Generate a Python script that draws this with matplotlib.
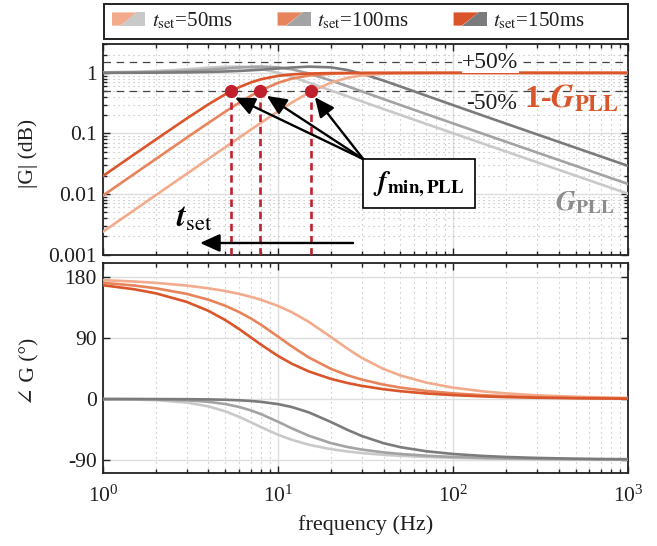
import matplotlib
matplotlib.use('Agg')
import matplotlib.pyplot as plt
from matplotlib.legend_handler import HandlerBase
from matplotlib.patches import Polygon, Rectangle

plt.rcParams['font.family'] = ['Liberation Serif', 'DejaVu Serif']
plt.rcParams['mathtext.fontset'] = 'stix'

# ---------------- data ----------------
freq = [1, 1.5, 2, 3, 4, 5, 6, 7, 8, 10, 12, 15, 20, 25, 30, 40, 50, 70,
        100, 150, 200, 300, 500, 700, 1000]

settle_labels = ['50ms', '100ms', '150ms']

# |1 - G_PLL|
mag_1mG_50 = [0.0023795, 0.005354, 0.009518, 0.021411, 0.038045, 0.059383, 0.085350,
              0.115812, 0.150554, 0.231490, 0.324152, 0.472004, 0.689440, 0.829847,
              0.906086, 0.967194, 0.986164, 0.996342, 0.999118, 0.99983, 0.99994,
              1.0, 1.0, 1.0, 1.0]
mag_1mG_100 = [0.009426, 0.021203, 0.037675, 0.084529, 0.149130, 0.229369, 0.321334,
               0.419306, 0.516547, 0.685911, 0.805092, 0.904502, 0.966580, 0.985897,
               0.993124, 0.997809, 0.999100, 0.99977, 0.99994, 1.0, 1.0, 1.0, 1.0,
               1.0, 1.0]
mag_1mG_150 = [0.01983, 0.04461, 0.07910, 0.17573, 0.30254, 0.44427, 0.58119, 0.69700,
               0.78560, 0.89297, 0.94383, 0.97581, 0.99215, 0.99676, 0.99843, 0.99950,
               0.99980, 0.99995, 1.0, 1.0, 1.0, 1.0, 1.0, 1.0, 1.0]

# |G_PLL|
mag_G_50 = [1.0194, 1.0427, 1.0731, 1.1468, 1.2187, 1.2644, 1.2681, 1.2304, 1.1640,
            1.0032, 0.8561, 0.6888, 0.5136, 0.4083, 0.3388, 0.2529, 0.2018, 0.1438,
            0.10053, 0.06698, 0.05022, 0.03347, 0.02008, 0.014344, 0.010041]
mag_G_100 = [1.0093, 1.0208, 1.0363, 1.0776, 1.1281, 1.1806, 1.2269, 1.2592, 1.2719,
             1.2360, 1.1432, 0.9764, 0.7492, 0.5983, 0.4962, 0.3693, 0.2941, 0.2092,
             0.14604, 0.09722, 0.07288, 0.04857, 0.029133, 0.020809, 0.014567]
mag_G_150 = [1.00237, 1.00533, 1.00943, 1.02096, 1.03662, 1.05595, 1.07833, 1.10302,
             1.12916, 1.18187, 1.22810, 1.26865, 1.23428, 1.11240, 0.97248, 0.74562,
             0.59535, 0.42140, 0.29269, 0.19414, 0.14533, 0.09675, 0.05801, 0.04143,
             0.028994]

# phase of 1 - G_PLL (deg)
ph_1mG_50 = [176.04, 174.06, 172.07, 168.06, 163.99, 159.86, 155.64, 151.34, 146.93,
             137.85, 128.45, 114.18, 92.00, 74.23, 61.12, 44.51, 34.88, 24.37, 16.84,
             11.14, 8.33, 5.55, 3.32, 2.37, 1.66]
ph_1mG_100 = [172.11, 168.12, 164.07, 155.77, 147.11, 138.07, 128.72, 119.25, 109.86,
              92.39, 77.76, 61.45, 44.75, 35.06, 28.84, 21.31, 16.92, 12.01, 8.38,
              5.57, 4.18, 2.78, 1.67, 1.19, 0.835]
ph_1mG_150 = [168.52, 162.63, 156.60, 143.97, 130.59, 116.84, 103.45, 91.15, 80.39,
              63.71, 52.16, 40.79, 29.87, 23.60, 19.52, 14.53, 11.58, 8.25, 5.76,
              3.84, 2.88, 1.92, 1.15, 0.82, 0.575]

# phase of G_PLL (deg)
ph_G_50 = [-0.22, -0.73, -1.68, -5.17, -10.86, -18.28, -26.47, -34.49, -41.72, -52.95,
           -60.54, -67.71, -74.22, -77.76, -79.98, -82.62, -84.15, -85.85, -87.11,
           -88.08, -88.56, -89.04, -89.42, -89.59, -89.71]
ph_G_100 = [-0.07, -0.24, -0.57, -1.84, -4.11, -7.46, -11.80, -16.89, -22.46, -33.68,
            -43.50, -54.45, -65.25, -71.18, -74.81, -79.01, -81.37, -83.93, -85.79,
            -87.21, -87.91, -88.61, -89.17, -89.40, -89.58]
ph_G_150 = [-0.01, -0.03, -0.07, -0.25, -0.58, -1.11, -1.88, -2.88, -4.18, -7.55,
            -11.93, -19.84, -33.93, -45.87, -54.67, -65.41, -71.29, -77.33, -81.41,
            -84.38, -85.82, -87.22, -88.34, -88.81, -89.17]

f_min = [5.35, 7.85, 15.4]          # f_min,PLL markers
f_min_level = 0.5
band_levels = [1.5, 0.5]            # +50 % / -50 %

# ---------------- styles ----------------
orange = ['#F2AB8C', '#E8845B', '#DA5529']
gray = ['#C9C9C9', '#A3A3A5', '#7B7B7D']
red = '#C0202E'
txtc = '#1E1E1E'

W, H = 657, 546
fig = plt.figure(figsize=(W / 100, H / 100), dpi=100)


def fr(l, t, r, b):
    return [l / W, 1 - b / H, (r - l) / W, (b - t) / H]


ax1 = fig.add_axes(fr(103, 44, 628.3, 254.5))
ax2 = fig.add_axes(fr(103, 263.3, 628.3, 473.3))

mags_1mG = [mag_1mG_50, mag_1mG_100, mag_1mG_150]
mags_G = [mag_G_50, mag_G_100, mag_G_150]
phs_1mG = [ph_1mG_50, ph_1mG_100, ph_1mG_150]
phs_G = [ph_G_50, ph_G_100, ph_G_150]

for m, c in zip(mags_G, gray):
    ax1.plot(freq, m, color=c, lw=1.9, zorder=3)
for m, c in zip(mags_1mG, orange):
    ax1.plot(freq, m, color=c, lw=1.9, zorder=3)

for p, c in zip(phs_G, gray):
    ax2.plot(freq, p, color=c, lw=1.9, zorder=3)
for p, c in zip(phs_1mG, orange):
    ax2.plot(freq, p, color=c, lw=1.9, zorder=3)

# axes setup
ax1.set_xscale('log')
ax1.set_yscale('log')
ax1.set_xlim(1, 1000)
ax1.set_ylim(0.001, 3)
ax1.set_yticks([0.001, 0.01, 0.1, 1])
ax1.set_yticklabels(['0.001', '0.01', '0.1', '1'])

ax2.set_xscale('log')
ax2.set_xlim(1, 1000)
ax2.set_ylim(-110, 201)
ax2.set_yticks([-90, 0, 90, 180])
ax2.set_yticklabels(['-90', '0', '90', '180'])

for ax in (ax1, ax2):
    ax.set_axisbelow(True)
    ax.grid(True, which='major', color='#DEDEDE', lw=1.0, ls='-')
    for s in ax.spines.values():
        s.set_linewidth(1.3)
        s.set_color('#222222')
    ax.tick_params(which='both', direction='in', top=True, right=True,
                   width=1.0, color='#222222', labelcolor=txtc, labelsize=15.5)
    ax.tick_params(which='major', length=5)
    ax.tick_params(which='minor', length=3)
    ax.tick_params(axis='y', pad=4.5)
ax1.grid(True, which='minor', color='#B8B8B8', lw=0.8, ls=(0, (1, 3.5)))
ax2.grid(True, which='minor', axis='x', color='#B8B8B8', lw=0.8, ls=(0, (1, 3.5)))
ax1.tick_params(labelbottom=False)
ax2.tick_params(axis='x', pad=9)

ax1.set_ylabel('|G| (dB)', fontsize=15.5, color=txtc)
ax1.yaxis.set_label_coords(-0.124, 0.479)
ax2.set_ylabel('∠ G (°)', fontsize=15.5, color=txtc)
ax2.yaxis.set_label_coords(-0.120, 0.484)
ax2.set_xlabel('frequency (Hz)', fontsize=16, color=txtc)
ax2.xaxis.set_label_coords(0.5, -0.20)

# +/-50 % band lines
for lv in band_levels:
    ax1.axhline(lv, color='#444444', lw=0.9, ls=(0, (6, 4.5)), zorder=2)
ax1.text(163, 1.5, '+50%', ha='center', va='center', fontsize=17, color=txtc,
         bbox=dict(fc='white', ec='none', pad=0.5), zorder=4)
ax1.text(166, 0.316, '-50%', ha='center', va='center', fontsize=17, color=txtc, zorder=4)

ax1.text(475, 0.261, r'1-$\mathbfit{G}_{\mathbf{PLL}}$', color=orange[2], fontsize=23,
         fontweight='bold', ha='center', va='baseline', zorder=4)
ax1.text(566, 0.00544, r'$\mathbfit{G}_{\mathbf{PLL}}$', color='#8C8C8C', fontsize=20,
         ha='center', va='baseline', zorder=4)

# f_min markers and red dashed drops
ax1.vlines(f_min, 0.001, f_min_level, colors=red, lw=1.9, linestyles=(0, (2.8, 1.8)), zorder=4)
ax1.plot(f_min, [f_min_level] * len(f_min), 'o', color=red, ms=8.5, zorder=5)

# arrows to markers from the box corner
tail = (30.7, 0.0375)
for tip in [(5.67, 0.391), (8.61, 0.417), (16.2, 0.398)]:
    ax1.annotate('', xy=tip, xytext=tail,
                 arrowprops=dict(arrowstyle='-|>,head_length=0.6,head_width=0.27',
                                 lw=1.7, color='black', shrinkA=0, shrinkB=0,
                                 mutation_scale=20), zorder=6)

# f_min,PLL box
bx0, by0 = (362.7 - 103) / 525.3, (254.5 - 208.3) / 210.5
bw, bh = (475 - 362.7) / 525.3, (208.3 - 159.3) / 210.5
ax1.add_patch(Rectangle((bx0, by0), bw, bh, transform=ax1.transAxes, fc='white',
                        ec='black', lw=1.2, zorder=7))
ax1.text(bx0 + bw / 2, by0 + bh / 2, r'$\mathbfit{f}_{\mathbf{min,PLL}}$',
         transform=ax1.transAxes, ha='center', va='center', fontsize=19.5,
         color='black', zorder=8)

# t_set arrow
ax1.annotate('', xy=(3.58, 0.00155), xytext=(26.8, 0.00155),
             arrowprops=dict(arrowstyle='-|>,head_length=0.6,head_width=0.27',
                             lw=1.7, color='black', shrinkA=0, shrinkB=0,
                             mutation_scale=20), zorder=6)
ax1.text(2.61, 0.00285, r'$\mathbfit{t}_{\mathrm{set}}$', ha='left', va='baseline',
         fontsize=23, color='black', zorder=6)


# ---------------- legend ----------------
class SplitPatch:
    def __init__(self, c1, c2):
        self.c1, self.c2 = c1, c2


class HandlerSplit(HandlerBase):
    def create_artists(self, legend, orig, xd, yd, w, h, fontsize, trans):
        x0, y0 = -xd, -yd
        p1 = Polygon([(x0, y0), (x0 + 0.25 * w, y0), (x0 + 0.75 * w, y0 + h), (x0, y0 + h)],
                     closed=True, fc=orig.c1, ec='none', transform=trans)
        p2 = Polygon([(x0 + 0.25 * w, y0), (x0 + w, y0), (x0 + w, y0 + h), (x0 + 0.75 * w, y0 + h)],
                     closed=True, fc=orig.c2, ec='none', transform=trans)
        return [p1, p2]


handles = [SplitPatch(o, g) for o, g in zip(orange, gray)]
labels = [r'$t_{\mathrm{set}}$=' + s for s in settle_labels]
fig.legend(handles, labels, handler_map={SplitPatch: HandlerSplit()},
           loc='center left', bbox_to_anchor=(112 / W, 1 - 21 / H), ncol=3,
           frameon=False, fontsize=15, handlelength=1.6, handleheight=0.6,
           handletextpad=0.3, columnspacing=2.15, borderpad=0, borderaxespad=0,
           labelcolor=txtc)
fig.add_artist(Rectangle((103.6 / W, 1 - 38.5 / H), (628 - 103.6) / W, (38.5 - 3.6) / H,
                         transform=fig.transFigure, fill=False, ec='#222222', lw=1.4))

fig.savefig('out.png', dpi=100)
